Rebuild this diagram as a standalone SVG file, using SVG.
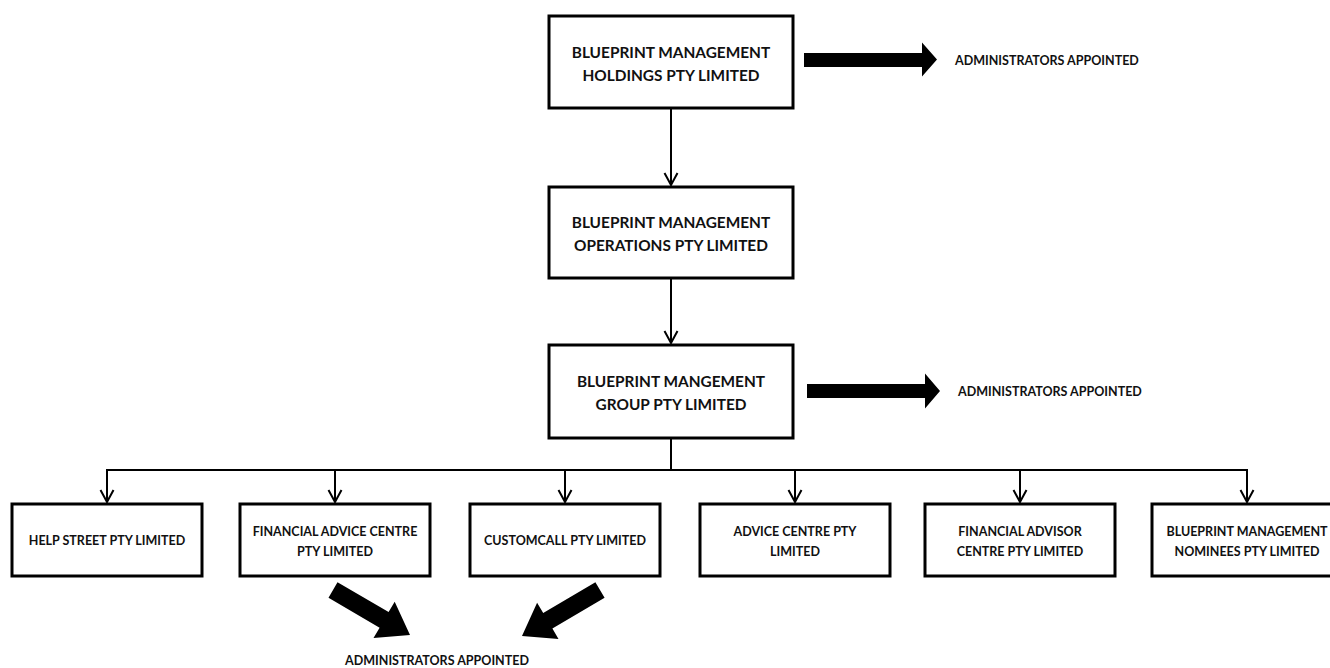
<svg xmlns="http://www.w3.org/2000/svg" width="1330" height="668" viewBox="0 0 1330 668">
  <defs>
    <style>
      .box { fill: #ffffff; stroke: #000000; stroke-width: 3; }
      .big { font-family: Lato, "Liberation Sans", sans-serif; font-weight: 700; font-size: 15.4px; fill: #111111; text-anchor: middle; }
      .sm { font-family: Lato, "Liberation Sans", sans-serif; font-weight: 700; font-size: 12.5px; fill: #111111; text-anchor: middle; }
      .lbl { font-family: Lato, "Liberation Sans", sans-serif; font-weight: 700; font-size: 12.5px; fill: #111111; }
      .conn { stroke: #000000; stroke-width: 2; fill: none; }
      .fat { fill: #000000; stroke: none; }
    </style>
    <marker id="vhead" markerUnits="userSpaceOnUse" markerWidth="16" markerHeight="16" viewBox="0 0 16 16" refX="14" refY="8" orient="auto">
      <path d="M2,1.5 L14,8 L2,14.5" fill="none" stroke="#000000" stroke-width="2"/>
    </marker>
  </defs>
  <rect width="1330" height="668" fill="#ffffff"/>

  <g id="connectors">
    <line class="conn" x1="671" y1="108" x2="671" y2="185" marker-end="url(#vhead)"/>
    <line class="conn" x1="671" y1="278" x2="671" y2="343" marker-end="url(#vhead)"/>
    <line class="conn" x1="671" y1="438" x2="671" y2="470"/>
    <line class="conn" x1="106" y1="470" x2="1248" y2="470"/>
    <line class="conn" x1="107" y1="470" x2="107" y2="502" marker-end="url(#vhead)"/>
    <line class="conn" x1="335" y1="470" x2="335" y2="502" marker-end="url(#vhead)"/>
    <line class="conn" x1="565" y1="470" x2="565" y2="502" marker-end="url(#vhead)"/>
    <line class="conn" x1="795" y1="470" x2="795" y2="502" marker-end="url(#vhead)"/>
    <line class="conn" x1="1020" y1="470" x2="1020" y2="502" marker-end="url(#vhead)"/>
    <line class="conn" x1="1247" y1="470" x2="1247" y2="502" marker-end="url(#vhead)"/>
    <polygon class="fat" points="804,53 922,53 922,42.5 937,59.5 922,76.5 922,67 804,67"/>
    <polygon class="fat" points="807,384 925,384 925,373.5 940,391 925,408.5 925,398 807,398"/>
    <polygon class="fat" points="337.5,582.2 388.6,612.1 394.7,601.8 410,635 373.5,638 379.6,627.7 328.5,597.8"/>
    <polygon class="fat" points="595.4,582.3 543.2,613.1 537.1,602.7 522,636 558.5,638.9 552.4,628.5 604.6,597.7"/>
  </g>

  <g id="holdings">
    <rect class="box" x="549" y="16" width="244" height="92"/>
    <text class="big" x="671" y="58">BLUEPRINT MANAGEMENT</text>
    <text class="big" x="671" y="81">HOLDINGS PTY LIMITED</text>
  </g>
  <g id="admin1">
    <text class="lbl" x="955" y="65">ADMINISTRATORS APPOINTED</text>
  </g>

  <g id="operations">
    <rect class="box" x="549" y="187" width="244" height="91"/>
    <text class="big" x="671" y="228">BLUEPRINT MANAGEMENT</text>
    <text class="big" x="671" y="251">OPERATIONS PTY LIMITED</text>
  </g>

  <g id="group">
    <rect class="box" x="549" y="345" width="244" height="93"/>
    <text class="big" x="671" y="387">BLUEPRINT MANGEMENT</text>
    <text class="big" x="671" y="410">GROUP PTY LIMITED</text>
  </g>
  <g id="admin2">
    <text class="lbl" x="958" y="396">ADMINISTRATORS APPOINTED</text>
  </g>

  <g id="helpstreet">
    <rect class="box" x="12" y="504" width="190" height="72"/>
    <text class="sm" x="107" y="545">HELP STREET PTY LIMITED</text>
  </g>
  <g id="financialadvice">
    <rect class="box" x="240" y="504" width="190" height="72"/>
    <text class="sm" x="335" y="536">FINANCIAL ADVICE CENTRE</text>
    <text class="sm" x="335" y="556">PTY LIMITED</text>
  </g>
  <g id="customcall">
    <rect class="box" x="470" y="504" width="190" height="72"/>
    <text class="sm" x="565" y="545">CUSTOMCALL PTY LIMITED</text>
  </g>
  <g id="advicecentre">
    <rect class="box" x="700" y="504" width="190" height="72"/>
    <text class="sm" x="795" y="536">ADVICE CENTRE PTY</text>
    <text class="sm" x="795" y="556">LIMITED</text>
  </g>
  <g id="financialadvisor">
    <rect class="box" x="925" y="504" width="190" height="72"/>
    <text class="sm" x="1020" y="536">FINANCIAL ADVISOR</text>
    <text class="sm" x="1020" y="556">CENTRE PTY LIMITED</text>
  </g>
  <g id="nominees">
    <rect class="box" x="1152" y="504" width="190" height="72"/>
    <text class="sm" x="1247" y="536">BLUEPRINT MANAGEMENT</text>
    <text class="sm" x="1247" y="556">NOMINEES PTY LIMITED</text>
  </g>
  <g id="admin3">
    <text class="sm" x="437" y="665">ADMINISTRATORS APPOINTED</text>
  </g>
</svg>
